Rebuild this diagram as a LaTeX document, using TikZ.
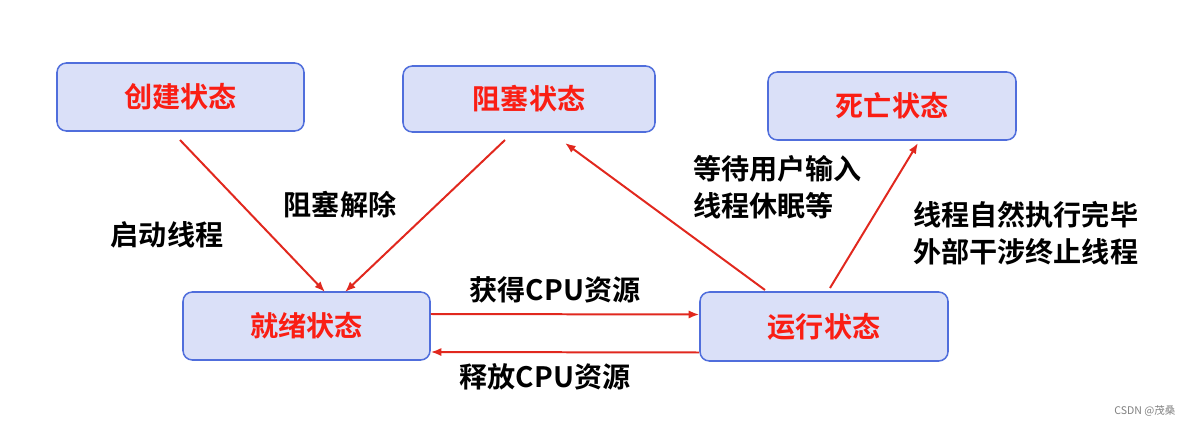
\documentclass[tikz,border=0pt]{standalone}
\usepackage{fontspec}
\usetikzlibrary{arrows.meta}
\newfontfamily\cjk{Noto Sans CJK SC}[BoldFont={Noto Sans CJK SC Bold}]
\definecolor{boxfill}{RGB}{218,224,248}
\definecolor{boxline}{RGB}{80,110,220}
\definecolor{arr}{RGB}{225,40,30}
\definecolor{txtred}{RGB}{250,30,20}
\begin{document}
\begin{tikzpicture}[x=0.03cm,y=-0.03cm,
  state/.style={draw=boxline,line width=1.3pt,fill=boxfill,rounded corners=8pt,font=\cjk\bfseries\fontsize{24}{28}\selectfont,text=txtred},
  lbl/.style={font=\cjk\bfseries\fontsize{24}{32}\selectfont,align=left,inner sep=0pt},
  arrw/.style={draw=arr,line width=1.7pt,-{Latex[length=9pt,width=7pt]}}]
\useasboundingbox (0,0) rectangle (1199,426);
\node[state,minimum width=247*0.03cm,minimum height=68*0.03cm] (cj) at (180.5,97) {创建状态};
\node[state,minimum width=252*0.03cm,minimum height=66*0.03cm] (zs) at (529,99) {阻塞状态};
\node[state,minimum width=248*0.03cm,minimum height=68*0.03cm] (sw) at (892,106) {死亡状态};
\node[state,minimum width=247*0.03cm,minimum height=68*0.03cm] (jx) at (306.5,326) {就绪状态};
\node[state,minimum width=248*0.03cm,minimum height=69*0.03cm] (yx) at (824,326.5) {运行状态};
\coordinate (a1) at (180,140); \coordinate (b1) at (325,292);
\coordinate (a2) at (505,140); \coordinate (b2) at (345,292);
\coordinate (a3) at (765,290); \coordinate (b3) at (565,143);
\coordinate (a4) at (830,288); \coordinate (b4) at (918,143);
\draw[arrw] (a1) -- (b1);
\draw[arrw] (a2) -- (b2);
\draw[arrw] (a3) -- (b3);
\draw[arrw] (a4) -- (b4);
\draw[arrw] ([yshift=12*0.03cm]jx.east) -- ([yshift=12*0.03cm]yx.west);
\draw[arrw] ([yshift=-26*0.03cm]yx.west) -- ([yshift=-26*0.03cm]jx.east);
\node[lbl] (l1) at (167,235) {启动线程};
\node[lbl] (l2) at (340,205) {阻塞解除};
\node[lbl] (l3) at (555,290) {获得CPU资源};
\node[lbl] (l4) at (545,377) {释放CPU资源};
\node[lbl,anchor=west] (l5) at (693,187) {等待用户输入\\线程休眠等};
\node[lbl,anchor=west] (l6) at (913,233) {线程自然执行完毕\\外部干涉终止线程};
\node[font=\cjk\fontsize{9}{10}\selectfont,text=gray] (cs) at (1145,411) {CSDN @茂桑};
\end{tikzpicture}
\end{document}
